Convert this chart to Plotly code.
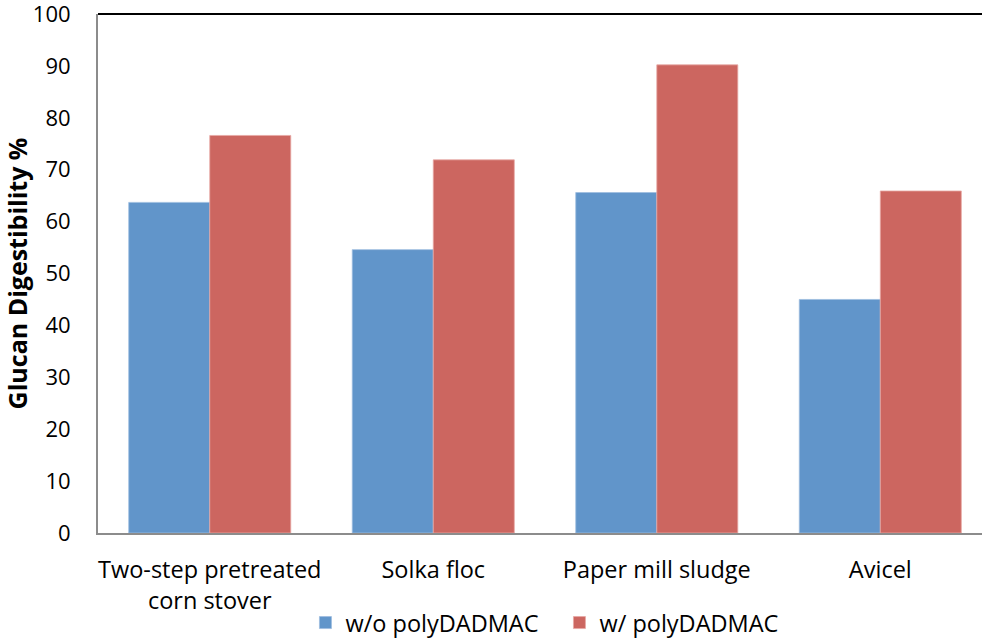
import plotly.graph_objects as go

categories = ["Two-step pretreated<br>corn stover", "Solka floc", "Paper mill sludge", "Avicel"]
without_poly = [63.7, 54.6, 65.6, 45.0]
with_poly = [76.6, 71.9, 90.2, 65.9]
series_names = ["w/o polyDADMAC", "w/ polyDADMAC"]
y_ticks = [0, 10, 20, 30, 40, 50, 60, 70, 80, 90, 100]

fig = go.Figure()
fig.add_trace(go.Bar(x=categories, y=without_poly, name=series_names[0],
                     marker=dict(color="#6195CA", line=dict(color="#9DBCE0", width=0.8))))
fig.add_trace(go.Bar(x=categories, y=with_poly, name=series_names[1],
                     marker=dict(color="#CC6660", line=dict(color="#E7A8A4", width=0.8))))

fig.update_layout(
    width=982, height=641,
    margin=dict(l=98, r=0, t=14, b=108, autoexpand=False),
    plot_bgcolor="white", paper_bgcolor="white",
    barmode="group", bargap=0.275, bargroupgap=0,
    font=dict(family="Open Sans, sans-serif", size=21, color="black"),
    showlegend=True,
    legend=dict(orientation="h", x=0.522, xanchor="center", y=-0.173, yanchor="middle",
                font=dict(size=23.5), itemwidth=30, entrywidth=209, entrywidthmode="pixels",
                tracegroupgap=0),
    xaxis=dict(range=[-0.5, 3.455], showline=True, linecolor="#8C8C8C", linewidth=2,
               showgrid=False, ticks="", tickfont=dict(size=23.5), ticklabelstandoff=15,
               automargin=False),
    yaxis=dict(range=[0, 100], tickvals=y_ticks, showline=True, linecolor="#8C8C8C", linewidth=2,
               showgrid=False, ticks="", ticklabelstandoff=21, tickfont=dict(size=22),
               ticklabeloverflow="allow", automargin=False,
               title=dict(text="<b>Glucan Digestibility %</b>", font=dict(size=25), standoff=0)),
)
fig.add_shape(type="line", xref="paper", yref="paper", x0=0, x1=1, y0=1, y1=1,
              line=dict(color="black", width=2))

fig.write_html("out.html")
